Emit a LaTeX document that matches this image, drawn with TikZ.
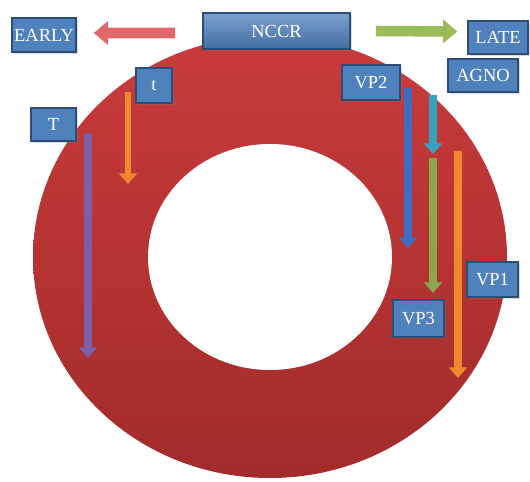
\documentclass[tikz,border=0pt]{standalone}
\usepackage{fontspec}
\setmainfont{Liberation Serif}
\newfontfamily\tagfont{Liberation Serif}
\usetikzlibrary{arrows.meta,shadows}

\definecolor{ringtop}{HTML}{C93B3B}
\definecolor{ringbot}{HTML}{A22B2B}
\definecolor{tagblue}{HTML}{4F81BD}
\definecolor{tagline}{HTML}{2C4D75}
\definecolor{arrred}{HTML}{E06868}
\definecolor{arrgreen}{HTML}{9BBB59}
\definecolor{arrorange}{HTML}{F0892E}
\definecolor{arrpurple}{HTML}{7E5FA6}
\definecolor{arrblue}{HTML}{3D6EC2}
\definecolor{arrcyan}{HTML}{35A3C0}

\tikzset{
    tag/.style={draw=tagline, fill=tagblue, text=white, line width=0.9pt, inner sep=0pt,
        font=\tagfont\fontsize{10.5}{12}\selectfont, drop shadow={opacity=0.3, shadow xshift=0.4mm, shadow yshift=-0.4mm}},
    bar/.style={line width=4pt, -{Triangle[width=10pt,length=6pt]}},
    wide/.style={line width=6pt, -{Triangle[width=13pt,length=8pt]}}
}

\begin{document}
\begin{tikzpicture}[x=0.02cm, y=-0.02cm]

    \useasboundingbox (0,0) rectangle (530,482);

    % ring
    \shade[top color=ringtop, bottom color=ringbot] (270,257) ellipse [x radius=237, y radius=221];
    \fill[white] (270,257) ellipse [x radius=122, y radius=113];

    % labels
    \node[tag, minimum width=1.28cm, minimum height=0.68cm] at (44,35) (early) {EARLY};
    \node[tag, top color=tagblue!75!white, bottom color=tagblue!85!black, minimum width=2.94cm, minimum height=0.72cm] at (276.5,31) (nccr) {NCCR};
    \node[tag, minimum width=1.2cm, minimum height=0.66cm] at (498,37.5) (late) {LATE};
    \node[tag, minimum width=1.4cm, minimum height=0.66cm] at (483,75.5) (agno) {AGNO};
    \node[tag, minimum width=1.16cm, minimum height=0.7cm] at (371,82.5) (vp2) {VP2};
    \node[tag, minimum width=0.72cm, minimum height=0.7cm] at (154,85.5) (tsmall) {t};
    \node[tag, minimum width=0.9cm, minimum height=0.66cm] at (53.5,124.5) (tbig) {T};
    \node[tag, minimum width=1.02cm, minimum height=0.7cm] at (492.5,279.5) (vp1) {VP1};
    \node[tag, minimum width=1.02cm, minimum height=0.74cm] at (418.5,318.5) (vp3) {VP3};

    % arrow ends
    \coordinate (ts) at (128,92);   \coordinate (te) at (128,184);
    \coordinate (Ts) at (88,133);   \coordinate (Te) at (88,358);
    \coordinate (bs) at (408,88);   \coordinate (be) at (408,248);
    \coordinate (cs) at (433,95);   \coordinate (ce) at (433,154);
    \coordinate (gs) at (433,158);  \coordinate (ge) at (433,293);
    \coordinate (os) at (458,151);  \coordinate (oe) at (458,378);

    \draw[wide, arrred] ([xshift=-0.54cm,yshift=-0.04cm]nccr.west) -- ([xshift=0.34cm,yshift=0.04cm]early.east);
    \draw[wide, arrgreen] ([xshift=0.5cm]nccr.east) -- ([xshift=-0.2cm,yshift=0.12cm]late.west);

    \draw[bar, line width=3pt, arrorange] (ts) -- (te);
    \draw[bar, arrpurple] (Ts) -- (Te);
    \draw[bar, arrblue] (bs) -- (be);
    \draw[bar, arrcyan] (cs) -- (ce);
    \draw[bar, arrgreen!90!black] (gs) -- (ge);
    \draw[bar, arrorange] (os) -- (oe);

\end{tikzpicture}
\end{document}
